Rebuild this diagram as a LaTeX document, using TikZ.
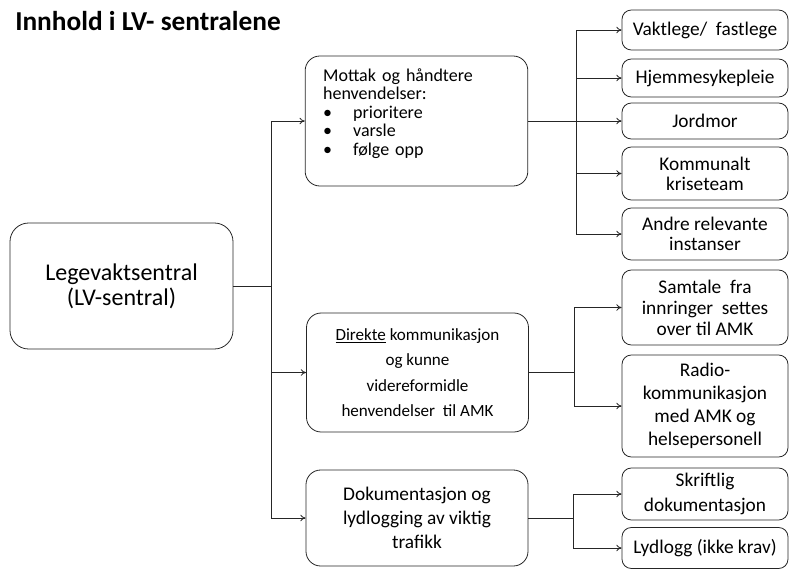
\documentclass[tikz,border=0pt]{standalone}
\usepackage{fontspec}
\setmainfont{Carlito}
\usetikzlibrary{arrows.meta}

\begin{document}
\begin{tikzpicture}[x=0.75pt, y=-0.75pt,
    box/.style={draw=black!85, line width=0.6pt, rounded corners=7pt, align=center, inner sep=2pt,
        font=\fontsize{14.5}{15}\selectfont},
    midbox/.style={box, rounded corners=11pt, minimum width=166.5pt},
    sidebox/.style={box, minimum width=124.5pt},
    link/.style={draw=black!85, line width=0.6pt},
    arr/.style={link, -{To[length=4pt,width=5pt]}},
    ]
    \useasboundingbox (0,0) rectangle (793,568);
    \node [anchor=base west, inner sep=0pt, font=\bfseries\fontsize{20.5}{24}\selectfont] (title) at (15,30) {Innhold i LV- sentralene};

    \node [box, rounded corners=14pt, minimum width=167.25pt, minimum height=94.5pt,
        font=\fontsize{18}{19}\selectfont] (lv) at (121.5,286) {Legevaktsentral\\(LV-sentral)};

    \node [midbox, minimum height=97.5pt, text width=140pt, inner xsep=13.5pt, align=left,
        font=\fontsize{13.5}{13.9}\selectfont] (mottak) at (416.5,121) {Mottak og håndtere\\henvendelser:\\
        \makebox[22.5pt][l]{\textbullet}prioritere\\
        \makebox[22.5pt][l]{\textbullet}varsle\\
        \makebox[22.5pt][l]{\textbullet}følge opp\\\mbox{}};
    \node [midbox, minimum height=89.25pt, font=\fontsize{12.8}{19}\selectfont] (direkte) at (417.5,372.5)
        {\underline{Direkte} kommunikasjon\\og kunne\\videreformidle\\henvendelser~ til AMK};
    \node [midbox, minimum height=72pt, font=\fontsize{14.5}{18}\selectfont] (dok) at (417,518)
        {Dokumentasjon og\\lydlogging av viktig\\trafikk};

    \node [sidebox, minimum height=30pt] (vakt) at (705,30) {Vaktlege/~ fastlege};
    \node [sidebox, minimum height=28.5pt] (hjemme) at (705,78) {Hjemmesykepleie};
    \node [sidebox, minimum height=27pt] (jordmor) at (705,121) {Jordmor};
    \node [sidebox, minimum height=39.75pt] (krise) at (705,173.5) {Kommunalt\\kriseteam};
    \node [sidebox, minimum height=39pt] (andre) at (705,234) {Andre relevante\\instanser};
    \node [sidebox, minimum height=56.25pt, font=\fontsize{14.5}{15.75}\selectfont] (samtale) at (705,307.5)
        {Samtale~ fra\\innringer~ settes\\over til AMK};
    \node [sidebox, minimum height=76.5pt, font=\fontsize{14.5}{17.25}\selectfont] (radio) at (705,406)
        {Radio-\\kommunikasjon\\med AMK og\\helsepersonell};
    \node [sidebox, minimum height=39pt, font=\fontsize{14.5}{18.75}\selectfont] (skrift) at (705,494)
        {Skriftlig\\dokumentasjon};
    \node [sidebox, minimum height=30.75pt] (lyd) at (705,548) {Lydlogg (ikke krav)};

    \coordinate (lt) at (271,286);
    \coordinate (rt1) at (576,121);
    \coordinate (rt2) at (574,372.5);
    \coordinate (rt3) at (573,518);

    \draw [link] (lv.east) -- (lt);
    \foreach \n in {mottak,direkte,dok}
        \draw [arr] (lt) |- (\n.west);

    \draw [link] (mottak.east) -- (rt1);
    \foreach \n in {vakt,hjemme,jordmor,krise,andre}
        \draw [arr] (rt1) |- (\n.west);

    \draw [link] (direkte.east) -- (rt2);
    \foreach \n in {samtale,radio}
        \draw [arr] (rt2) |- (\n.west);

    \draw [link] (dok.east) -- (rt3);
    \foreach \n in {skrift,lyd}
        \draw [arr] (rt3) |- (\n.west);
\end{tikzpicture}
\end{document}
